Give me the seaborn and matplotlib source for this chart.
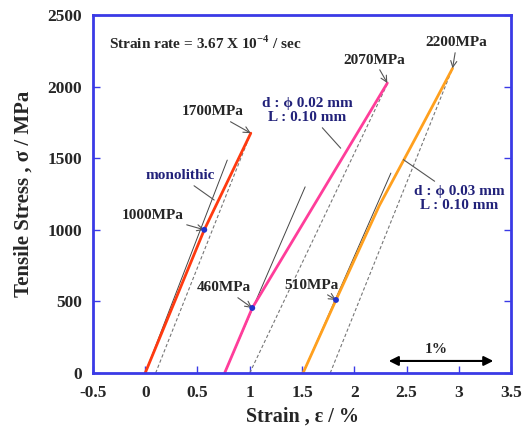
import matplotlib
matplotlib.use('Agg')
import matplotlib.pyplot as plt
import numpy as np
import seaborn as sns

sns.set_style('white')
plt.rcParams['font.family'] = ['Liberation Serif', 'DejaVu Serif']
plt.rcParams['font.weight'] = 'bold'
plt.rcParams['mathtext.fontset'] = 'custom'
plt.rcParams['mathtext.rm'] = 'Liberation Serif:bold'

# stress-strain curves
mono_strain = [0, 0.565, 1.01]
mono_stress = [0, 1000, 1675]
d02_strain = [0.76, 1.024, 1.65, 2.316]
d02_stress = [0, 454, 1215, 2025]
d03_strain = [1.51, 1.825, 2.24, 2.60, 2.94]
d03_stress = [0, 510, 1170, 1660, 2128]

# elastic fit lines (thin black)
mono_fit_x = [0, 0.785]
mono_fit_y = [0, 1487]
d02_fit_x = [0.76, 1.53]
d02_fit_y = [0, 1300]
d03_fit_x = [1.51, 2.35]
d03_fit_y = [0, 1396]

# dashed lines to fracture point
mono_dash_x = [0.10, 1.01]
mono_dash_y = [0, 1675]
d02_dash_x = [1.00, 2.32]
d02_dash_y = [0, 2025]
d03_dash_x = [1.77, 2.94]
d03_dash_y = [0, 2128]

# proportional limit points
prop_x = [0.565, 1.024, 1.825]
prop_y = [1000, 454, 510]

blue = '#3a3ae6'
navy = '#22227a'

fig, ax = plt.subplots(figsize=(5.28, 4.30), dpi=100)
fig.subplots_adjust(left=0.176, right=0.968, bottom=0.1326, top=0.965)

for xs, ys in [(mono_fit_x, mono_fit_y), (d02_fit_x, d02_fit_y), (d03_fit_x, d03_fit_y)]:
    sns.lineplot(x=xs, y=ys, ax=ax, color='#444444', lw=0.7, sort=False)
for xs, ys in [(mono_dash_x, mono_dash_y), (d02_dash_x, d02_dash_y), (d03_dash_x, d03_dash_y)]:
    sns.lineplot(x=xs, y=ys, ax=ax, color='#777777', lw=0.8, ls=(0, (3, 2)), sort=False)

sns.lineplot(x=mono_strain, y=mono_stress, ax=ax, color='#ff3a10', lw=2, sort=False)
sns.lineplot(x=d02_strain, y=d02_stress, ax=ax, color='#ff3d9a', lw=2, sort=False)
sns.lineplot(x=d03_strain, y=d03_stress, ax=ax, color='#ffa01e', lw=2, sort=False)
sns.scatterplot(x=prop_x, y=prop_y, ax=ax, color='#2233cc', s=18, zorder=5, edgecolor='none')

ax.set_xlim(-0.5, 3.5)
ax.set_ylim(0, 2500)
ax.set_xticks(np.arange(-0.5, 3.51, 0.5))
ax.set_xticklabels(['-0.5', '0', '0.5', '1', '1.5', '2', '2.5', '3', '3.5'])
ax.set_yticks(np.arange(0, 2501, 500))
ax.tick_params(direction='in', length=5, color=blue, width=1, labelsize=12.5,
               left=True, bottom=True, right=True, top=False)
ax.tick_params(axis='x', pad=9)
ax.tick_params(axis='y', pad=8)
for s in ax.spines.values():
    s.set_color(blue)
    s.set_linewidth(2)
ax.set_xlabel('Strain , ε / %', fontsize=14.5, fontweight='bold', labelpad=4)
ax.set_ylabel('Tensile Stress , σ / MPa', fontsize=15, fontweight='bold', labelpad=10)

ax.text(-0.345, 2305, 'Strain rate = 3.67 X 10$^{-4}$ / sec', fontsize=11, fontweight='bold',
        ha='left', va='center')

arrow = dict(arrowstyle='->', color='#555555', lw=0.8, shrinkA=0, shrinkB=0)
ax.annotate('1700MPa', xy=(1.01, 1675), xytext=(0.65, 1823), fontsize=11, ha='center',
            va='center', arrowprops=arrow)
ax.annotate('2070MPa', xy=(2.316, 2025), xytext=(2.19, 2186), fontsize=11, ha='center',
            va='center', arrowprops=arrow)
ax.annotate('2200MPa', xy=(2.94, 2128), xytext=(2.98, 2305), fontsize=11, ha='center',
            va='center', arrowprops=arrow)
ax.annotate('1000MPa', xy=(0.565, 1000), xytext=(0.07, 1103), fontsize=11, ha='center',
            va='center', arrowprops=arrow)
ax.annotate('460MPa', xy=(1.024, 454), xytext=(0.755, 594), fontsize=11, ha='center',
            va='center', arrowprops=arrow)
ax.annotate('510MPa', xy=(1.825, 510), xytext=(1.59, 614), fontsize=11, ha='center',
            va='center', arrowprops=arrow)

line = dict(arrowstyle='-', color='#555555', lw=0.8, shrinkA=0, shrinkB=0)
ax.annotate('monolithic', xy=(0.66, 1208), xytext=(0.335, 1376), fontsize=11, color=navy,
            ha='center', va='center', arrowprops=line)
ax.annotate('d : ϕ 0.02 mm\nL : 0.10 mm', xy=(1.87, 1570), xytext=(1.55, 1830), fontsize=11,
            color=navy, ha='center', va='center', linespacing=1.1, arrowprops=line)
ax.annotate('d : ϕ 0.03 mm\nL : 0.10 mm', xy=(2.47, 1490), xytext=(3.0, 1222), fontsize=11,
            color=navy, ha='center', va='center', linespacing=1.1, arrowprops=line)

ax.annotate('', xy=(2.33, 84), xytext=(3.33, 84),
            arrowprops=dict(arrowstyle='<|-|>', color='black', lw=1.5, mutation_scale=14,
                            shrinkA=0, shrinkB=0))
ax.text(2.78, 167, '1%', fontsize=11, fontweight='bold', ha='center', va='center')

fig.savefig('out.png', dpi=100)
